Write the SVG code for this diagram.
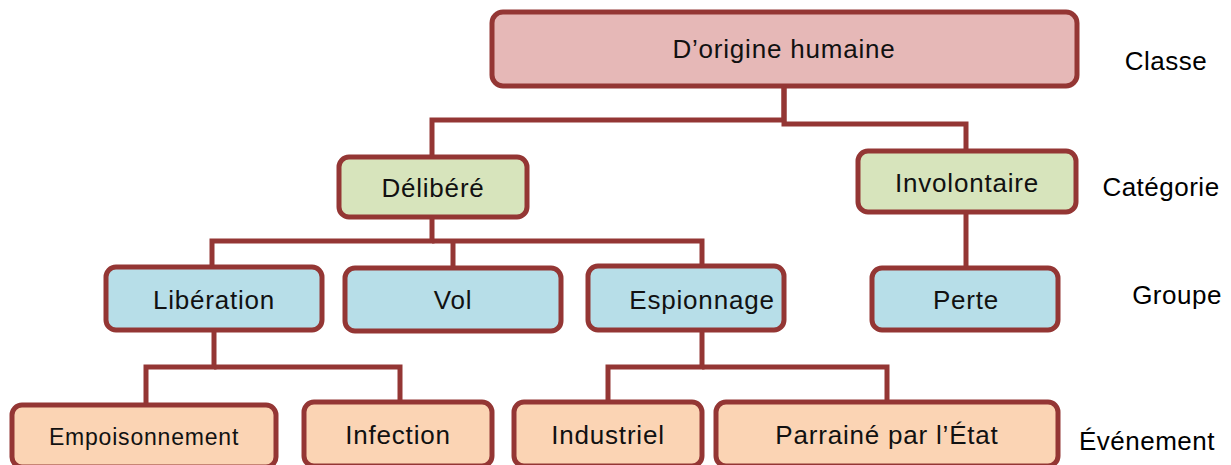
<svg xmlns="http://www.w3.org/2000/svg" width="1231" height="465" viewBox="0 0 1231 465">
<style>
.box{stroke:#943634;stroke-width:5}
.c1{fill:#E6B8B7}.c2{fill:#D7E4BC}.c3{fill:#B7DEE8}.c4{fill:#FBD4B4}
.t{font-family:"Liberation Sans",Arial,sans-serif;font-size:26px;letter-spacing:0.8px;fill:#111;text-anchor:middle;dominant-baseline:central}
.lab{font-family:"Liberation Sans",Arial,sans-serif;font-size:26px;letter-spacing:0.5px;fill:#000;text-anchor:middle;dominant-baseline:central}
.conn{fill:none;stroke:#943634;stroke-width:5}
</style>
<rect width="1231" height="465" fill="#fff"/>
<g id="connectors">
<path class="conn" d="M784 86V120H432V157"/>
<path class="conn" d="M784 86V124H966V151"/>
<path class="conn" d="M966 212V268"/>
<path class="conn" d="M432 217V241H212V267"/>
<path class="conn" d="M432 241H702V266"/>
<path class="conn" d="M453 241V268"/>
<path class="conn" d="M214 330V367H146V405"/>
<path class="conn" d="M214 367H400V402"/>
<path class="conn" d="M702 330V367H608V402"/>
<path class="conn" d="M702 367H887V402"/>
</g>
<g id="n-humaine"><rect class="box c1" x="492" y="12" width="585" height="74" rx="11"/><text class="t" x="784" y="49">D’origine humaine</text></g>
<g id="n-delibere"><rect class="box c2" x="339" y="157" width="188" height="60" rx="10"/><text class="t" x="433" y="188">Délibéré</text></g>
<g id="n-involontaire"><rect class="box c2" x="858" y="151" width="218" height="61" rx="10"/><text class="t" x="967" y="183">Involontaire</text></g>
<g id="n-liberation"><rect class="box c3" x="106" y="267" width="216" height="63" rx="10"/><text class="t" x="214" y="300">Libération</text></g>
<g id="n-vol"><rect class="box c3" x="345" y="268" width="216" height="63" rx="10"/><text class="t" x="453" y="300">Vol</text></g>
<g id="n-espionnage"><rect class="box c3" x="588" y="266" width="196" height="64" rx="10"/><text class="t" x="702" y="300">Espionnage</text></g>
<g id="n-perte"><rect class="box c3" x="872" y="268" width="186" height="62" rx="10"/><text class="t" x="966" y="300">Perte</text></g>
<g id="n-empoisonnement"><rect class="box c4" x="12" y="405" width="264" height="62" rx="10"/><text class="t" x="144" y="437" style="font-size:23px">Empoisonnement</text></g>
<g id="n-infection"><rect class="box c4" x="304" y="402" width="188" height="64" rx="10"/><text class="t" x="398" y="435">Infection</text></g>
<g id="n-industriel"><rect class="box c4" x="514" y="402" width="188" height="64" rx="10"/><text class="t" x="608" y="435">Industriel</text></g>
<g id="n-parraine"><rect class="box c4" x="716" y="402" width="342" height="64" rx="10"/><text class="t" x="887" y="435">Parrainé par l’État</text></g>
<g id="labels">
<text class="lab" x="1166" y="61">Classe</text>
<text class="lab" x="1161" y="187">Catégorie</text>
<text class="lab" x="1177" y="295">Groupe</text>
<text class="lab" x="1147" y="441">Événement</text>
</g>
</svg>
